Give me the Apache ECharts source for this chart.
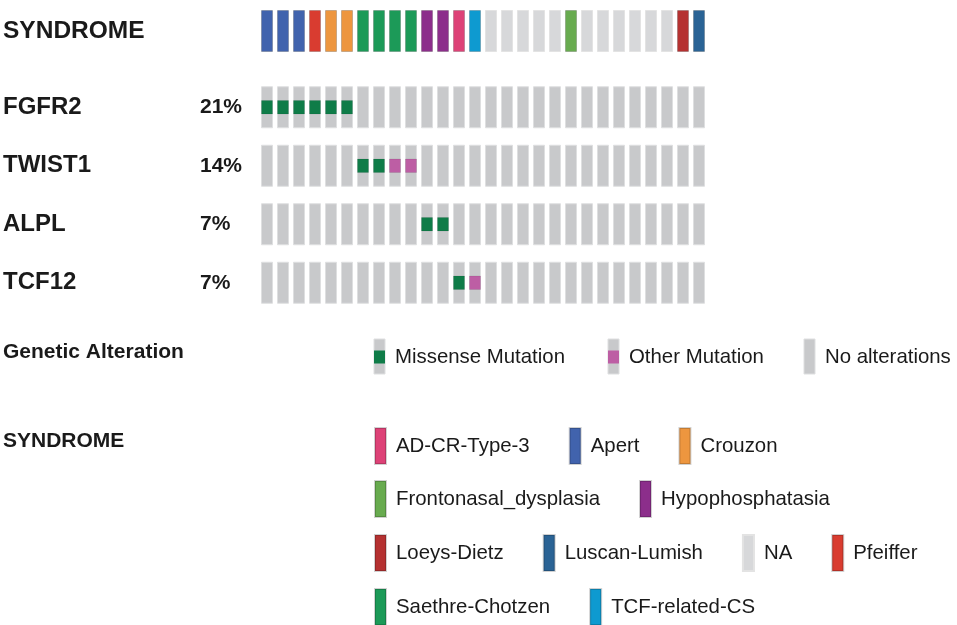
<!DOCTYPE html>
<html>
<head>
<meta charset="utf-8">
<title>Oncoprint SYNDROME</title>
<script src="https://cdn.jsdelivr.net/npm/echarts@6/dist/echarts.min.js"></script>
<style>
  html, body { margin: 0; padding: 0; background: #fff; }
  #chart { width: 957px; height: 625px; }
</style>
</head>
<body>
<div id="chart"></div>
<script>
// samples (columns)
var samples = ['S01','S02','S03','S04','S05','S06','S07','S08','S09','S10','S11','S12','S13','S14',
               'S15','S16','S17','S18','S19','S20','S21','S22','S23','S24','S25','S26','S27','S28'];

// syndrome of each sample
var sampleSyndrome = ['Apert','Apert','Apert','Pfeiffer','Crouzon','Crouzon',
  'Saethre-Chotzen','Saethre-Chotzen','Saethre-Chotzen','Saethre-Chotzen',
  'Hypophosphatasia','Hypophosphatasia','AD-CR-Type-3','TCF-related-CS',
  'NA','NA','NA','NA','NA','Frontonasal_dysplasia','NA','NA','NA','NA','NA','NA',
  'Loeys-Dietz','Luscan-Lumish'];

var syndromes = ['AD-CR-Type-3','Apert','Crouzon','Frontonasal_dysplasia','Hypophosphatasia',
  'Loeys-Dietz','Luscan-Lumish','NA','Pfeiffer','Saethre-Chotzen','TCF-related-CS'];
var syndromeColors = ['#dd4277','#4163ad','#ed963f','#68ab4f','#8c2e8b',
  '#b53131','#2a6395','#d7d8da','#d93c30','#1c9a58','#0e9ad0'];

// legend rows of the syndrome legend
var syndromeLegendRows = [
  ['AD-CR-Type-3','Apert','Crouzon'],
  ['Frontonasal_dysplasia','Hypophosphatasia'],
  ['Loeys-Dietz','Luscan-Lumish','NA','Pfeiffer'],
  ['Saethre-Chotzen','TCF-related-CS']
];

// genes and alteration per sample: M = missense, O = other, '' = none
var genes = ['FGFR2','TWIST1','ALPL','TCF12'];
var genePct = ['21%','14%','7%','7%'];
var altFGFR2  = ['M','M','M','M','M','M','','','','','','','','','','','','','','','','','','','','','',''];
var altTWIST1 = ['','','','','','','M','M','O','O','','','','','','','','','','','','','','','','','',''];
var altALPL   = ['','','','','','','','','','','M','M','','','','','','','','','','','','','','','',''];
var altTCF12  = ['','','','','','','','','','','','','M','O','','','','','','','','','','','','','',''];
var geneAlts = [altFGFR2, altTWIST1, altALPL, altTCF12];

var alterationTypes = ['Missense Mutation','Other Mutation','No alterations'];
var alterationCodes = ['M','O',''];
var alterationColors = ['#0f7c48','#bd5ea4','#c8c9cb'];

var FONT = "'Liberation Sans', Arial, Helvetica, sans-serif";
var TXT = '#1a1a1a';
var CELL_W = 11;
var CELL_H = 41;
var LEG_FS = 20.4;

function cellRenderer(h, fill, stroke) {
  return function (params, api) {
    var c = api.coord([api.value(0), api.value(1)]);
    return {
      type: 'rect',
      shape: { x: c[0] - CELL_W / 2, y: c[1] - h / 2, width: CELL_W, height: h },
      style: { fill: fill, stroke: stroke, lineWidth: 1 }
    };
  };
}

var series = [];

// syndrome row, one series per syndrome so it gets a legend entry
syndromes.forEach(function (name, k) {
  var d = [];
  sampleSyndrome.forEach(function (s, i) { if (s === name) d.push([i, 0]); });
  var stroke = name === 'NA' ? '#e3e3e3' : 'rgba(0,0,0,0.18)';
  series.push({
    name: name,
    type: 'custom',
    xAxisIndex: 0, yAxisIndex: 0,
    itemStyle: { color: syndromeColors[k], borderColor: stroke, borderWidth: 1 },
    renderItem: cellRenderer(CELL_H, syndromeColors[k], stroke),
    data: d,
    silent: true
  });
});

// gene rows: background cells
var bg = [];
genes.forEach(function (g, gi) {
  samples.forEach(function (s, i) { bg.push([i, gi]); });
});
series.push({
  name: 'No alterations',
  type: 'custom',
  xAxisIndex: 1, yAxisIndex: 1,
  renderItem: cellRenderer(CELL_H, alterationColors[2], '#dedfe0'),
  data: bg,
  silent: true
});

// mutations
[0, 1].forEach(function (t) {
  var d = [];
  geneAlts.forEach(function (arr, gi) {
    arr.forEach(function (code, i) { if (code === alterationCodes[t]) d.push([i, gi]); });
  });
  series.push({
    name: alterationTypes[t],
    type: 'custom',
    xAxisIndex: 1, yAxisIndex: 1,
    renderItem: cellRenderer(13.5, alterationColors[t], 'rgba(0,0,0,0.08)'),
    data: d,
    silent: true,
    z: 3
  });
});

// syndrome legends (one per row)
var legendTops = [427, 480, 534, 588];
var legends = syndromeLegendRows.map(function (row, r) {
  return {
    data: row.map(function (n) { return { name: n, icon: 'rect' }; }),
    left: 374,
    top: legendTops[r],
    padding: 0,
    orient: 'horizontal',
    itemWidth: 11,
    itemHeight: 36,
    itemGap: 39,
    selectedMode: false,
    textStyle: { fontFamily: FONT, fontSize: LEG_FS, color: TXT, padding: [0, 0, 0, 5] }
  };
});

// genetic alteration legend drawn as graphics
var altLegendX = [374, 608, 804];
var altGraphics = [];
alterationTypes.forEach(function (name, t) {
  var x = altLegendX[t];
  altGraphics.push({ type: 'rect', shape: { x: x, y: 339, width: CELL_W, height: 35 },
    style: { fill: alterationColors[2], stroke: '#dedfe0', lineWidth: 1 } });
  if (t < 2) {
    altGraphics.push({ type: 'rect', shape: { x: x, y: 350.5, width: CELL_W, height: 13 },
      style: { fill: alterationColors[t] } });
  }
  altGraphics.push({ type: 'text', x: x + 21, y: 357,
    style: { text: name, font: LEG_FS + 'px ' + FONT, fill: TXT, verticalAlign: 'middle' } });
});
altGraphics.push({ type: 'text', x: 3, y: 352,
  style: { text: 'Genetic Alteration', font: 'bold 21px ' + FONT, fill: TXT, verticalAlign: 'middle' } });
altGraphics.push({ type: 'text', x: 3, y: 441,
  style: { text: 'SYNDROME', font: 'bold 21px ' + FONT, fill: TXT, verticalAlign: 'middle' } });

var chart = echarts.init(document.getElementById('chart'));
chart.setOption({
  animation: false,
  backgroundColor: '#fff',
  grid: [
    { left: 259, width: 448, top: 1, height: 60 },
    { left: 259, width: 448, top: 78, height: 234 }
  ],
  xAxis: [
    { type: 'category', data: samples, gridIndex: 0, show: false },
    { type: 'category', data: samples, gridIndex: 1, show: false }
  ],
  yAxis: [
    {
      type: 'category', data: ['SYNDROME'], gridIndex: 0,
      axisLine: { show: false }, axisTick: { show: false }, splitLine: { show: false },
      axisLabel: { margin: 256, align: 'left', fontFamily: FONT, fontSize: 24.5, fontWeight: 'bold', color: TXT }
    },
    {
      type: 'category', data: genes, gridIndex: 1, inverse: true,
      axisLine: { show: false }, axisTick: { show: false }, splitLine: { show: false },
      axisLabel: {
        margin: 256, align: 'left',
        formatter: function (v, i) { return '{g|' + v + '}{p|' + genePct[i] + '}'; },
        rich: {
          g: { width: 197, fontFamily: FONT, fontSize: 24, fontWeight: 'bold', color: TXT },
          p: { fontFamily: FONT, fontSize: 21, fontWeight: 'bold', color: TXT }
        }
      }
    }
  ],
  legend: legends,
  graphic: altGraphics,
  series: series
});
</script>
</body>
</html>
